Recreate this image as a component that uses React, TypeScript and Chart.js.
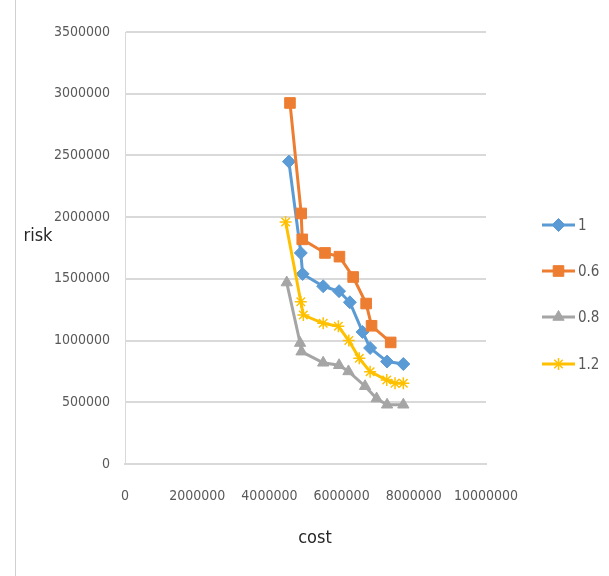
import React, { useEffect, useRef } from "react";
import { Chart, registerables } from "chart.js";
import { drawPoint } from "chart.js/helpers";

Chart.register(...registerables);

// ---- data ----
const seriesNames = ["1", "0.6", "0.8", "1.2"];

const cost1 = [4540000, 4870000, 4920000, 5490000, 5930000, 6230000, 6580000, 6790000, 7260000, 7710000];
const risk1 = [2450000, 1710000, 1540000, 1440000, 1400000, 1310000, 1070000, 940000, 830000, 810000];

const cost06 = [4570000, 4880000, 4910000, 5540000, 5940000, 6320000, 6680000, 6830000, 7360000];
const risk06 = [2925000, 2030000, 1820000, 1710000, 1680000, 1515000, 1300000, 1120000, 985000];

const cost08 = [4480000, 4850000, 4890000, 5490000, 5930000, 6190000, 6650000, 6970000, 7260000, 7710000];
const risk08 = [1470000, 980000, 910000, 820000, 800000, 750000, 630000, 530000, 480000, 480000];

const cost12 = [4450000, 4870000, 4940000, 5490000, 5910000, 6200000, 6490000, 6790000, 7250000, 7480000, 7710000];
const risk12 = [1960000, 1315000, 1207000, 1140000, 1116000, 1000000, 856000, 748000, 680000, 654000, 654000];

const xTickValues = [0, 2000000, 4000000, 6000000, 8000000, 10000000];
const yTickValues = [0, 500000, 1000000, 1500000, 2000000, 2500000, 3000000, 3500000];

const xTitle = "cost";
const yTitle = "risk";

// ---- styles ----
const COLORS = ["#5B9BD5", "#ED7D31", "#A5A5A5", "#FFC000"];
const POINT_STYLES = ["rectRot", "rect", "triangle", "star"];
const POINT_RADII = [6.5, 7.5, 6.5, 6];
const FONT = '"Liberation Sans Narrow", "DejaVu Sans Condensed", sans-serif';

function toPoints(xs: number[], ys: number[]) {
  return xs.map((x, i) => ({ x, y: ys[i] }));
}

const decorPlugin = {
  id: "decor",
  beforeDraw(chart: any) {
    const ctx = chart.ctx;
    ctx.save();
    ctx.fillStyle = "#ffffff";
    ctx.fillRect(0, 0, chart.width, chart.height);
    ctx.strokeStyle = "#d0d0d0";
    ctx.lineWidth = 1;
    ctx.beginPath();
    ctx.moveTo(15.5, 0);
    ctx.lineTo(15.5, chart.height);
    ctx.stroke();
    ctx.restore();
  },
  afterDraw(chart: any) {
    const ctx = chart.ctx;
    ctx.save();
    // axis titles
    ctx.fillStyle = "#262626";
    ctx.font = `18px ${FONT}`;
    ctx.textAlign = "center";
    ctx.textBaseline = "middle";
    ctx.fillText(yTitle, 38, 236);
    ctx.fillText(xTitle, 315, 538);
    // legend
    const ys = [225, 271, 317, 364];
    chart.data.datasets.forEach((ds: any, i: number) => {
      const y = ys[i];
      ctx.strokeStyle = ds.borderColor;
      ctx.lineWidth = 3;
      ctx.beginPath();
      ctx.moveTo(542, y);
      ctx.lineTo(575, y);
      ctx.stroke();
      ctx.fillStyle = ds.pointBackgroundColor;
      ctx.strokeStyle = ds.pointBorderColor;
      ctx.lineWidth = ds.pointBorderWidth;
      drawPoint(ctx, { pointStyle: ds.pointStyle, radius: ds.pointRadius, borderWidth: ds.pointBorderWidth, rotation: 0 } as any, 558.5, y);
      ctx.fillStyle = "#595959";
      ctx.font = `15px ${FONT}`;
      ctx.textAlign = "left";
      ctx.textBaseline = "middle";
      ctx.fillText(ds.label, 578, y + 1);
    });
    ctx.restore();
  },
};

export default function App() {
  const ref = useRef<HTMLCanvasElement | null>(null);

  useEffect(() => {
    if (!ref.current) return;
    const sets = [
      toPoints(cost1, risk1),
      toPoints(cost06, risk06),
      toPoints(cost08, risk08),
      toPoints(cost12, risk12),
    ];
    const chart = new Chart(ref.current, {
      type: "line",
      data: {
        datasets: sets.map((d, i) => ({
          label: seriesNames[i],
          data: d,
          borderColor: COLORS[i],
          backgroundColor: COLORS[i],
          borderWidth: 3,
          pointStyle: POINT_STYLES[i],
          pointRadius: POINT_RADII[i],
          pointBackgroundColor: COLORS[i],
          pointBorderColor: COLORS[i],
          pointBorderWidth: i === 3 ? 1.5 : 1,
          tension: 0,
          fill: false,
          order: 4 - i,
        })),
      },
      options: {
        responsive: false,
        animation: false,
        layout: { padding: { left: 0, right: 123, top: 32, bottom: 0 } },
        plugins: { legend: { display: false }, tooltip: { enabled: false } },
        scales: {
          x: {
            type: "linear",
            min: 0,
            max: 10000000,
            afterBuildTicks: (scale: any) => {
              scale.ticks = xTickValues.map((v) => ({ value: v }));
            },
            afterFit: (scale: any) => {
              scale.height = 112;
            },
            grid: { display: false, drawTicks: false },
            border: { display: true, color: "#d9d9d9", width: 2 },
            ticks: {
              color: "#595959",
              font: { family: FONT, size: 14 },
              padding: 24,
              maxRotation: 0,
              autoSkip: false,
              callback: (v: any) => String(v),
            },
          },
          y: {
            type: "linear",
            min: 0,
            max: 3500000,
            afterBuildTicks: (scale: any) => {
              scale.ticks = yTickValues.map((v) => ({ value: v }));
            },
            afterFit: (scale: any) => {
              scale.width = 125;
            },
            grid: { color: "#d9d9d9", lineWidth: 2, drawTicks: false },
            border: { display: true, color: "#d9d9d9", width: 1 },
            ticks: {
              color: "#595959",
              font: { family: FONT, size: 14 },
              padding: 15,
              autoSkip: false,
              callback: (v: any) => String(v),
            },
          },
        },
      },
      plugins: [decorPlugin],
    } as any);
    return () => chart.destroy();
  }, []);

  return (
    <div style={{ position: "fixed", left: 0, top: 0, width: 609, height: 576, background: "#fff" }}>
      <canvas ref={ref} width={609} height={576} style={{ display: "block" }} />
    </div>
  );
}
